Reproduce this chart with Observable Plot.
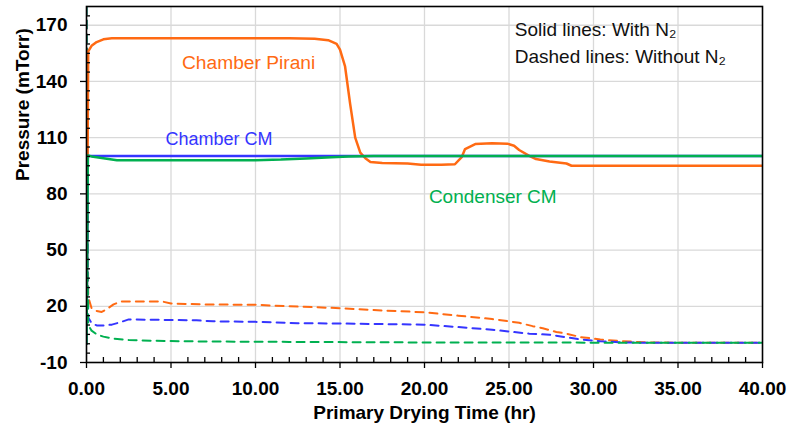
<!DOCTYPE html>
<html><head><meta charset="utf-8">
<script src="https://cdn.jsdelivr.net/npm/d3@7"></script>
<script src="https://cdn.jsdelivr.net/npm/@observablehq/plot@0.6"></script>
<style>html,body{margin:0;padding:0;background:#fff;}</style>
</head><body><div id="chart"></div>
<script>
// Axis ticks
const xTicks = [0, 5, 10, 15, 20, 25, 30, 35, 40];
const yTicks = [-10, 20, 50, 80, 110, 140, 170];

// Solid lines: With N2
const tPiraniN2 = [0, 0.1, 0.3, 0.6, 1.0, 1.5, 3, 6, 9, 12, 13.5, 14.3, 14.8, 15.0, 15.3, 15.6, 15.9, 16.2, 16.5, 16.8, 17.5, 19, 19.8, 21, 21.8, 22.2, 22.4, 23.0, 24, 24.9, 25.3, 25.6, 26.2, 26.6, 27.4, 28.4, 28.7, 32, 36, 40];
const vPiraniN2 = [0, 156, 159, 161, 162.5, 163, 163, 163, 163, 163, 162.8, 162, 160, 157, 148, 128, 110, 102, 99, 97, 96.5, 96.2, 95.5, 95.5, 95.8, 99.6, 103.9, 106.6, 107, 106.8, 105.7, 103.4, 100.3, 98.6, 97.3, 96.2, 95, 95, 95, 95];

const tChamberCMN2 = [0, 0.08, 0.15, 10, 20, 30, 40];
const vChamberCMN2 = [0, 100.2, 100.2, 100.2, 100.2, 100.2, 100.2];

const tCondenserCMN2 = [0, 0.08, 0.3, 1.0, 1.8, 5, 10, 11.5, 13, 14.5, 15.5, 17, 25, 40];
const vCondenserCMN2 = [0, 100.5, 100, 99, 98, 97.9, 98.0, 98.3, 98.9, 99.6, 100, 100.2, 100.2, 100.2];

// Dashed lines: Without N2
const tPirani = [0, 0.1, 0.3, 0.6, 0.9, 1.2, 1.6, 2.0, 3, 4.5, 5, 7, 10, 12, 15, 17, 20, 22, 24, 25.6, 26.4, 27, 27.8, 28.4, 29.2, 30.4, 31.5, 33, 35, 40];
const vPirani = [180, 25, 19, 17.5, 17, 18.5, 21, 22.5, 22.6, 22.5, 21.5, 21, 20.8, 20, 19, 18, 16.8, 15, 13.2, 11.2, 9.4, 8.3, 6.3, 5.4, 3.6, 2.3, 1.5, 0.8, 0.5, 0.5];

const tChamberCM = [0, 0.1, 0.3, 0.6, 1.0, 1.5, 2.0, 2.5, 4, 6.5, 7.5, 10, 12.5, 15, 20, 22, 24, 26.2, 27.4, 28.3, 29.2, 30.4, 31.5, 33, 40];
const vChamberCM = [180, 14, 11, 9.8, 9.8, 10.2, 11.5, 13, 12.8, 12.5, 12, 11.7, 11, 10.8, 10.2, 8.9, 7.5, 5.4, 4.8, 3.6, 2.3, 1.4, 0.8, 0.5, 0.5];

const tCondenserCM = [0, 0.1, 0.3, 0.6, 1.0, 1.5, 2.5, 4, 7, 12, 20, 40];
const vCondenserCM = [180, 10, 7, 5, 3.8, 2.8, 2.0, 1.6, 1.2, 1.0, 0.7, 0.5];

const orange = "#FF6A13", blue = "#3535FF", green = "#00B050";

const toRows = (t, v) => t.map((d, i) => ({t: d, v: v[i]}));

const solidSeries = [
  {rows: toRows(tPiraniN2, vPiraniN2), color: orange},
  {rows: toRows(tChamberCMN2, vChamberCMN2), color: blue},
  {rows: toRows(tCondenserCMN2, vCondenserCMN2), color: green}
];
const dashedSeries = [
  {rows: toRows(tPirani, vPirani), color: orange},
  {rows: toRows(tChamberCM, vChamberCM), color: blue},
  {rows: toRows(tCondenserCM, vCondenserCM), color: green}
];

// Annotations
const seriesLabels = [
  {t: 5.65, v: 150, text: "Chamber Pirani", color: orange, size: 19.2},
  {t: 4.67, v: 109.3, text: "Chamber CM", color: blue, size: 18},
  {t: 20.26, v: 78.6, text: "Condenser CM", color: green, size: 19}
];
const noteLabels = [
  {t: 25.34, v: 167.3, text: "Solid lines: With N\u2082"},
  {t: 25.34, v: 153, text: "Dashed lines: Without N\u2082"}
];

const minorX = d3.range(1, 40).filter(d => d % 5 !== 0);
const minorY = d3.range(-5, 180, 5).filter(d => !yTicks.includes(d));

const W = 802, H = 423, mL = 86, mR = 40, mT = 6, mB = 61;
const innerW = W - mL - mR, innerH = H - mT - mB;

const marks = [
  Plot.gridX(xTicks.filter(d => d > 0 && d < 40), {stroke: "#d9d9d9", strokeOpacity: 1, strokeWidth: 1.3}),
  Plot.gridY(yTicks.filter(d => d > -10), {stroke: "#d9d9d9", strokeOpacity: 1, strokeWidth: 1.3}),
  ...dashedSeries.map(s => Plot.line(s.rows, {x: "t", y: "v", stroke: s.color, strokeWidth: 2, strokeDasharray: "8,6", curve: "linear", clip: true})),
  ...solidSeries.map(s => Plot.line(s.rows, {x: "t", y: "v", stroke: s.color, strokeWidth: 2.5, curve: "linear", clip: true})),
  Plot.frame({stroke: "black", strokeWidth: 1.6}),
  Plot.tickX(minorX, {x: d => d, insetTop: innerH - 5, stroke: "black", strokeWidth: 1.3}),
  Plot.tickY(minorY, {y: d => d, insetRight: innerW - 4, stroke: "black", strokeWidth: 1.3}),
  Plot.axisX(xTicks, {tickSize: 6, tickPadding: 13, tickFormat: d => d.toFixed(2), fontSize: 19, fontWeight: "bold", stroke: "black", strokeWidth: 1.3, label: null}),
  Plot.axisY(yTicks, {tickSize: 6, tickPadding: 13, tickFormat: d => String(d), fontSize: 19, fontWeight: "bold", stroke: "black", strokeWidth: 1.3, label: null}),
  Plot.text(["Primary Drying Time (hr)"], {frameAnchor: "bottom", lineAnchor: "top", dy: 43, fontSize: 19, fontWeight: "bold", fill: "black"}),
  Plot.text(["Pressure (mTorr)"], {frameAnchor: "left", rotate: -90, lineAnchor: "middle", dx: -64, dy: -3.5, fontSize: 19, fontWeight: "bold", fill: "black"}),
  ...seriesLabels.map(d => Plot.text([d], {x: "t", y: "v", text: "text", fill: d.color, textAnchor: "start", lineAnchor: "middle", fontSize: d.size})),
  Plot.text(noteLabels, {x: "t", y: "v", text: "text", fill: "#111", textAnchor: "start", lineAnchor: "middle", fontSize: 19})
];

const chart = Plot.plot({
  width: W, height: H,
  marginLeft: mL, marginRight: mR, marginTop: mT, marginBottom: mB,
  x: {domain: [0, 40]},
  y: {domain: [-10, 180]},
  style: {fontFamily: "'Liberation Sans', Arial, sans-serif", background: "white", overflow: "visible"},
  marks
});
document.getElementById("chart").appendChild(chart);
</script>
</body></html>
